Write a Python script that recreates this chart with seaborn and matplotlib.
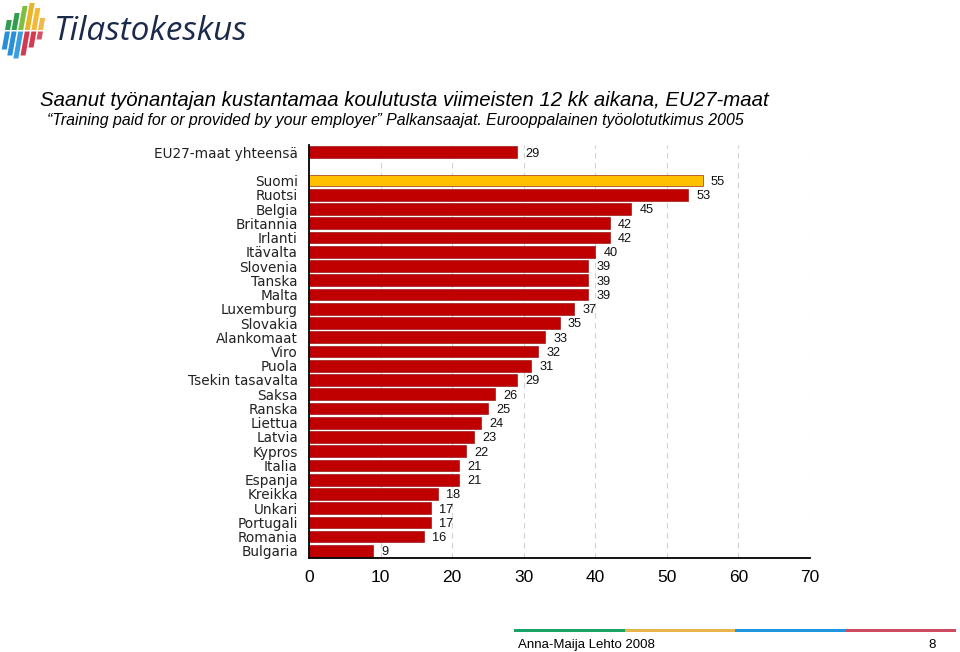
import matplotlib
matplotlib.use("Agg")
import matplotlib.pyplot as plt
import seaborn as sns
import pandas as pd
from matplotlib.patches import Polygon, Rectangle

# ---------------- data ----------------
total_label = "EU27-maat yhteensä"
total_value = 29
countries = ["Suomi", "Ruotsi", "Belgia", "Britannia", "Irlanti", "Itävalta",
             "Slovenia", "Tanska", "Malta", "Luxemburg", "Slovakia", "Alankomaat",
             "Viro", "Puola", "Tsekin tasavalta", "Saksa", "Ranska", "Liettua",
             "Latvia", "Kypros", "Italia", "Espanja", "Kreikka", "Unkari",
             "Portugali", "Romania", "Bulgaria"]
values = [55, 53, 45, 42, 42, 40, 39, 39, 39, 37, 35, 33, 32, 31, 29, 26, 25,
          24, 23, 22, 21, 21, 18, 17, 17, 16, 9]
highlight = "Suomi"
xticks = [0, 10, 20, 30, 40, 50, 60, 70]

title = "Saanut työnantajan kustantamaa koulutusta viimeisten 12 kk aikana, EU27-maat"
subtitle = "\u201cTraining paid for or provided by your employer\u201d Palkansaajat. Eurooppalainen työolotutkimus 2005"
footer = "Anna-Maija Lehto 2008"
page = "8"

RED = "#C00000"
GOLD = "#FFC000"

# ---------------- frame ----------------
blank = " "
order = [total_label, blank] + countries
df = pd.DataFrame({"cat": [total_label] + countries,
                   "val": [total_value] + values})
palette = {c: (GOLD if c == highlight else RED) for c in df["cat"]}

sns.set_theme(style="white")
plt.rcParams["font.family"] = ["DejaVu Sans"]

W, H = 960, 652
fig = plt.figure(figsize=(W / 100, H / 100), dpi=100)
fig.patch.set_facecolor("white")

def fx(x):
    return x / W

def fy(y):
    return 1 - y / H

ax = fig.add_axes([fx(309), fy(558), fx(810) - fx(309), fy(145) - fy(558)])
sns.barplot(data=df, x="val", y="cat", order=order, hue="cat", palette=palette,
            legend=False, width=0.82, orient="h", ax=ax, saturation=1,
            edgecolor="#8a0000", linewidth=0.4, zorder=3)

ax.set_xlim(0, 70)
ax.set_ylim(len(order) - 0.5, -0.5)
ax.set_xticks(xticks)
ax.set_xticklabels([str(t) for t in xticks], fontsize=12.5, color="black",
                   family=["Liberation Sans", "DejaVu Sans"])
ax.tick_params(axis="x", length=0, pad=9, colors="black")
ax.tick_params(axis="y", length=0, pad=8, labelsize=9.8)
for lab in ax.get_yticklabels():
    lab.set_color("#222222")
ax.set_xlabel("")
ax.set_ylabel("")
for t in xticks[1:]:
    ax.axvline(t, color="#d2d2d2", linestyle=(0, (5, 4)), linewidth=0.8, zorder=1)
for s in ["top", "right"]:
    ax.spines[s].set_visible(False)
for s in ["left", "bottom"]:
    ax.spines[s].set_color("black")
    ax.spines[s].set_linewidth(1.3)
    ax.spines[s].set_zorder(5)

# value labels
for i, c in enumerate(order):
    if c == blank:
        continue
    v = df.loc[df["cat"] == c, "val"].iloc[0]
    ax.annotate(str(v), xy=(v, i), xytext=(6, -1), textcoords="offset points",
                ha="left", va="center", fontsize=9.2,
                family=["Liberation Sans", "DejaVu Sans"], color="#111111")

# ---------------- titles ----------------
fig.text(fx(40), fy(101), title, fontsize=14.7, style="italic",
         family=["Liberation Sans", "DejaVu Sans"], color="black",
         ha="left", va="center")
fig.text(fx(47), fy(120), subtitle, fontsize=11.4, style="italic",
         family=["Liberation Sans", "DejaVu Sans"], color="black",
         ha="left", va="center")

# ---------------- logo ----------------
top_cols = ["#2e9e4f", "#2e9e4f", "#7fbf3f", "#e9b526", "#f0b93a", "#f2b84b"]
bot_cols = ["#2a8fd6", "#2a8fd6", "#3a9fe0", "#d23a52", "#d23a52", "#d65068"]
top_h = [10, 17, 24, 27, 22, 12]
bot_h = [18, 24, 27, 24, 16, 8]
sw, slant, gap = 5.0, 0.18, 6.6
mid = 30
for k in range(6):
    x0 = 5 + k * gap
    h = top_h[k]
    pts = [(x0, mid), (x0 + sw, mid), (x0 + sw + slant * h, mid - h), (x0 + slant * h, mid - h)]
    fig.add_artist(Polygon([(fx(a), fy(b)) for a, b in pts], closed=True,
                           transform=fig.transFigure, color=top_cols[k], lw=0))
    h = bot_h[k]
    pts = [(x0, mid + 1.5), (x0 + sw, mid + 1.5),
           (x0 + sw - slant * h, mid + 1.5 + h), (x0 - slant * h, mid + 1.5 + h)]
    fig.add_artist(Polygon([(fx(a), fy(b)) for a, b in pts], closed=True,
                           transform=fig.transFigure, color=bot_cols[k], lw=0))
fig.text(fx(54), fy(31), "Tilastokeskus", fontsize=24, style="italic",
         family=["Open Sans", "DejaVu Sans"], color="#1b2a4a",
         ha="left", va="center")

# ---------------- footer ----------------
seg_cols = ["#1aa366", "#e8b54a", "#1f97e0", "#d04a60"]
x_start, x_end = 514, 956
seg_w = (x_end - x_start) / 4
for k, c in enumerate(seg_cols):
    fig.add_artist(Rectangle((fx(x_start + k * seg_w), fy(632)), fx(seg_w), 3 / H,
                             transform=fig.transFigure, color=c, lw=0))
fig.text(fx(518), fy(645), footer, fontsize=9.5,
         family=["Liberation Sans", "DejaVu Sans"], color="black", ha="left", va="center")
fig.text(fx(928), fy(645), page, fontsize=9.5,
         family=["Liberation Sans", "DejaVu Sans"], color="black", ha="left", va="center")

fig.savefig("out.png", dpi=100, facecolor="white")
